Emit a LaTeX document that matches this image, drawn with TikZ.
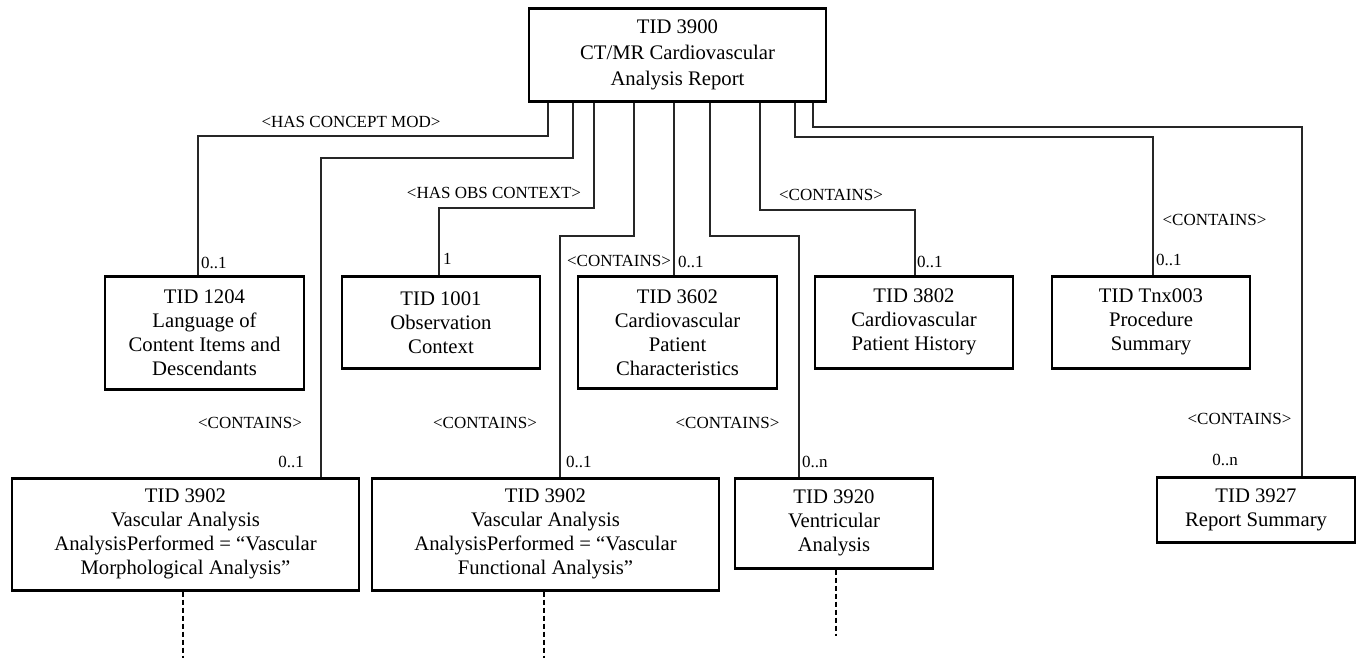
\documentclass[tikz,border=0pt]{standalone}
\usepackage{fontspec}
\setmainfont{Liberation Serif}

\tikzset{
  tid/.style={draw, line width=2.6pt, align=center, anchor=north, inner sep=0pt,
    font=\fontsize{20.7}{24}\selectfont},
  link/.style={line width=1.1pt, black!85},
  rel/.style={font=\fontsize{17}{20}\selectfont, inner sep=0pt},
  more/.style={line width=2pt, dash pattern=on 5pt off 3pt}
}

\begin{document}
\begin{tikzpicture}[x=1pt,y=-1pt]
\useasboundingbox (0,0) rectangle (1361,658);
% templates
\node[tid, minimum width=297, minimum height=93, font=\fontsize{20.7}{26}\selectfont] (t3900) at (677.5,7) {TID 3900\\CT/MR Cardiovascular\\Analysis Report};
\node[tid, minimum width=199, minimum height=113] (t1204) at (204.5,275) {TID 1204\\Language of\\Content Items and\\Descendants};
\node[tid, minimum width=198, minimum height=92] (t1001) at (441,275) {TID 1001\\Observation\\Context};
\node[tid, minimum width=199, minimum height=112] (t3602) at (677.5,275) {TID 3602\\Cardiovascular\\Patient\\Characteristics};
\node[tid, minimum width=198, minimum height=92] (t3802) at (914,275) {TID 3802\\Cardiovascular\\Patient History};
\node[tid, minimum width=198, minimum height=92] (tnx003) at (1151,275) {TID Tnx003\\Procedure\\Summary};
\node[tid, minimum width=347, minimum height=112] (t3902m) at (185.5,477) {TID 3902\\Vascular Analysis\\AnalysisPerformed = “Vascular\\Morphological Analysis”};
\node[tid, minimum width=347, minimum height=112] (t3902f) at (545.5,477) {TID 3902\\Vascular Analysis\\AnalysisPerformed = “Vascular\\Functional Analysis”};
\node[tid, minimum width=198, minimum height=90] (t3920) at (834,477) {TID 3920\\Ventricular\\Analysis};
\node[tid, minimum width=198, minimum height=65] (t3927) at (1256,476) {TID 3927\\Report Summary};

% relationships
\draw[link] (548,0 |- t3900.south) |- (198,136) -- (198,0 |- t1204.north);
\draw[link] (573,0 |- t3900.south) |- (321,158) -- (321,0 |- t3902m.north);
\draw[link] (594,0 |- t3900.south) |- (439,208) -- (439,0 |- t1001.north);
\draw[link] (634,0 |- t3900.south) |- (560,236) -- (560,0 |- t3902f.north);
\draw[link] (674,0 |- t3900.south) -- (674,0 |- t3602.north);
\draw[link] (710,0 |- t3900.south) |- (799,236) -- (799,0 |- t3920.north);
\draw[link] (760,0 |- t3900.south) |- (915,210) -- (915,0 |- t3802.north);
\draw[link] (795,0 |- t3900.south) |- (1153,137) -- (1153,0 |- tnx003.north);
\draw[link] (813,0 |- t3900.south) |- (1302,127) -- (1302,0 |- t3927.north);

\node[rel] (r1204) at (351,122) {<HAS CONCEPT MOD>};
\node[rel, anchor=west] (m1204) at (201,263) {0..1};
\node[rel] (r1001) at (494,193) {<HAS OBS CONTEXT>};
\node[rel, anchor=west] (m1001) at (443,259) {1};
\node[rel] (r3602) at (619,261) {<CONTAINS>};
\node[rel, anchor=west] (m3602) at (678,262) {0..1};
\node[rel] (r3802) at (831,195) {<CONTAINS>};
\node[rel, anchor=west] (m3802) at (917,262) {0..1};
\node[rel] (rnx003) at (1214.5,220) {<CONTAINS>};
\node[rel, anchor=west] (mnx003) at (1156,260) {0..1};
\node[rel] (r3902m) at (250,423) {<CONTAINS>};
\node[rel, anchor=east] (m3902m) at (304,462) {0..1};
\node[rel] (r3902f) at (485,423) {<CONTAINS>};
\node[rel, anchor=west] (m3902f) at (566,462) {0..1};
\node[rel] (r3920) at (727.5,423) {<CONTAINS>};
\node[rel, anchor=west] (m3920) at (802,462) {0..n};
\node[rel] (r3927) at (1239.5,419) {<CONTAINS>};
\node[rel] (m3927) at (1225,460) {0..n};

% continuation
\draw[more] (183,0 |- t3902m.south) -- ++(0,68);
\draw[more] (544,0 |- t3902f.south) -- ++(0,68);
\draw[more] (836,0 |- t3920.south) -- ++(0,66);
\end{tikzpicture}
\end{document}
